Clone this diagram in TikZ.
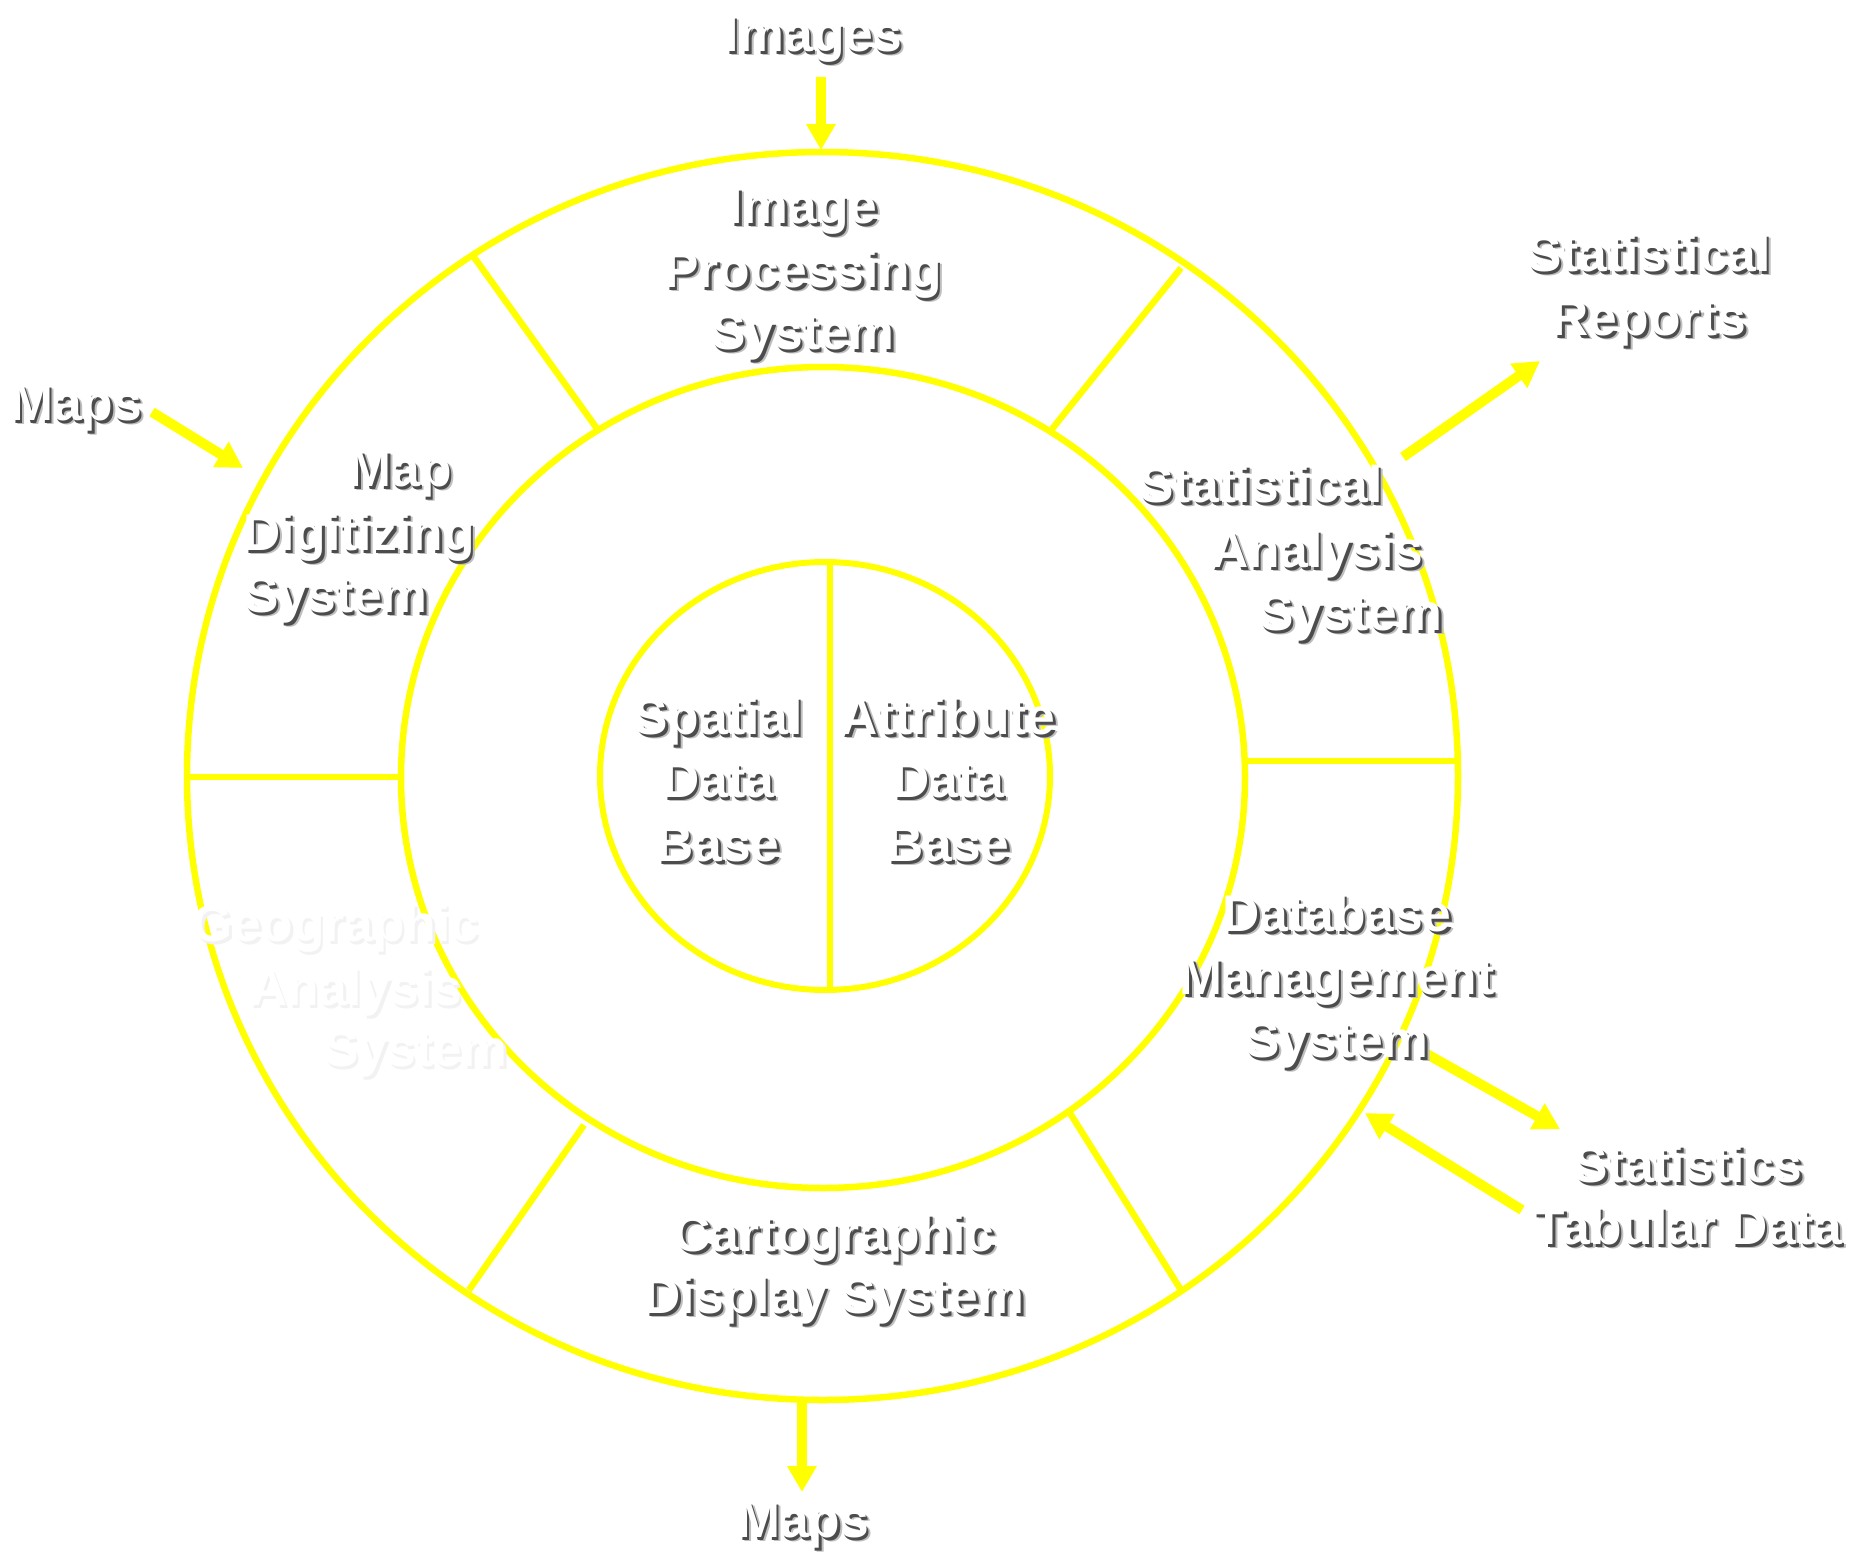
\documentclass[tikz,border=0pt]{standalone}
\usepackage{fontspec}
\setmainfont{Liberation Sans}
\usetikzlibrary{arrows.meta}
\definecolor{ringyellow}{RGB}{255,255,0}
\newcommand\shtxt[1]{%
  \makebox[0pt][l]{\hspace{4.5pt}\raisebox{-4.5pt}{\textcolor{black!25}{#1}}}%
  \makebox[0pt][l]{\hspace{2.5pt}\raisebox{-3pt}{\textcolor{black!70}{#1}}}%
  \textcolor{white}{#1}}
\newcommand\ghosttxt[1]{%
  \makebox[0pt][l]{\hspace{2.5pt}\raisebox{-3pt}{\textcolor{black!5}{#1}}}%
  \textcolor{white}{#1}}
\newcommand\shlabel[4]{\node[lbl] (#1) at (#2,#3) {\shtxt{#4}};}
\newcommand\ghostlabel[4]{\node[lbl] (#1) at (#2,#3) {\ghosttxt{#4}};}
\begin{document}
\begin{tikzpicture}[x=1pt,y=-1pt,
  lbl/.style={anchor=base, inner sep=0pt, font=\fontsize{51.5}{60}\selectfont\bfseries},
  ring/.style={draw=ringyellow, line width=6.5pt},
  arr/.style={draw=ringyellow, line width=10pt, -{Triangle[length=26pt,width=28pt]}}]
\fill[white] (0,0) rectangle (1866,1553);
\useasboundingbox (0,0) rectangle (1866,1553);
% rings
\draw[ring] (822.5,776) ellipse [x radius=635.5, y radius=624];
\draw[ring] (823,777.5) ellipse [x radius=422, y radius=410.5];
\draw[ring, line width=6pt] (825,776) ellipse [x radius=225, y radius=214];
% coordinates
\coordinate (divT) at (830,562);
\coordinate (divB) at (830,990);
\coordinate (hLo) at (187,777);
\coordinate (hLi) at (401,777);
\coordinate (hRi) at (1245,761);
\coordinate (hRo) at (1458,761);
\coordinate (ulO) at (471,253);
\coordinate (ulI) at (598,430);
\coordinate (urO) at (1181,268);
\coordinate (urI) at (1052,429);
\coordinate (llI) at (584,1125);
\coordinate (llO) at (469,1290);
\coordinate (lrI) at (1068,1110);
\coordinate (lrO) at (1181,1290);
\draw[ring, line width=6pt] (divT) -- (divB);
\draw[ring] (hLo) -- (hLi);
\draw[ring] (hRi) -- (hRo);
\draw[ring] (ulO) -- (ulI);
\draw[ring] (urO) -- (urI);
\draw[ring] (llI) -- (llO);
\draw[ring] (lrI) -- (lrO);
% arrows
\coordinate (imgS) at (821,77);
\coordinate (imgE) at (821,150);
\coordinate (mapS) at (152,412);
\coordinate (mapE) at (243,468);
\coordinate (repS) at (1403,457);
\coordinate (repE) at (1540,361);
\coordinate (staS) at (1425,1053);
\coordinate (staE) at (1560,1129);
\coordinate (tabS) at (1522,1210);
\coordinate (tabE) at (1365,1113);
\coordinate (outS) at (802,1400);
\coordinate (outE) at (802,1492);
\draw[arr] (imgS) -- (imgE);
\draw[arr] (mapS) -- (mapE);
\draw[arr] (repS) -- (repE);
\draw[arr] (staS) -- (staE);
\draw[arr] (tabS) -- (tabE);
\draw[arr] (outS) -- (outE);
% labels
\shlabel{images}{813}{51}{Images}
\shlabel{ip1}{803}{223}{Image}
\shlabel{ip2}{803}{287}{Processing}
\shlabel{ip3}{803}{349}{System}
\shlabel{sr1}{1649}{271}{Statistical}
\shlabel{sr2}{1649}{335}{Reports}
\shlabel{mapsin}{76}{420}{Maps}
\shlabel{md1}{400}{486}{Map}
\shlabel{md2}{359}{550}{Digitizing}
\shlabel{md3}{336}{612}{System}
\shlabel{sa1}{1261}{502}{Statistical}
\shlabel{sa2}{1317}{567}{Analysis}
\shlabel{sa3}{1351}{630}{System}
\shlabel{sd1}{718}{734}{Spatial}
\shlabel{sd2}{718}{797}{Data}
\shlabel{sd3}{718}{861}{Base}
\shlabel{ad1}{948}{734}{Attribute}
\shlabel{ad2}{948}{797}{Data}
\shlabel{ad3}{948}{861}{Base}
\shlabel{dm1}{1337}{931}{Database}
\shlabel{dm2}{1337}{994}{Management}
\shlabel{dm3}{1337}{1057}{System}
\shlabel{st1}{1688}{1182}{Statistics}
\shlabel{st2}{1688}{1244}{Tabular Data}
\shlabel{cd1}{834}{1251}{Cartographic}
\shlabel{cd2}{834}{1313}{Display System}
\shlabel{mapsout}{803}{1537}{Maps}
\ghostlabel{ga1}{336}{941}{Geographic}
\ghostlabel{ga2}{356}{1005}{Analysis}
\ghostlabel{ga3}{416}{1066}{System}
\end{tikzpicture}
\end{document}
